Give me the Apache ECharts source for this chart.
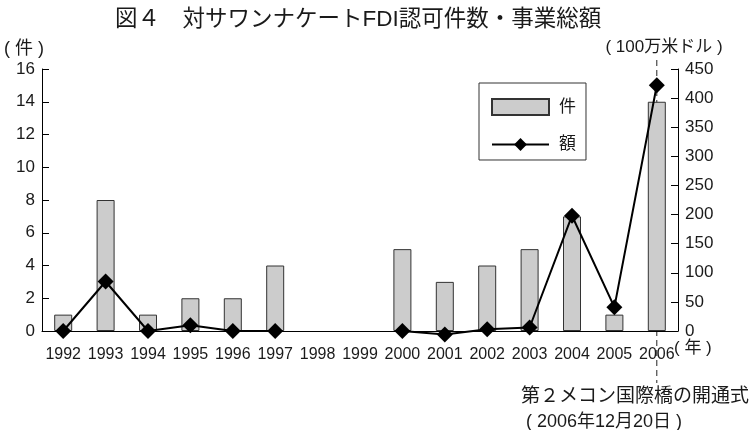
<!DOCTYPE html>
<html>
<head>
<meta charset="utf-8">
<script src="https://cdn.jsdelivr.net/npm/echarts@6/dist/echarts.min.js"></script>
<style>
  html, body { margin: 0; padding: 0; background: #fff; }
  #chart { width: 751px; height: 430px; }
</style>
</head>
<body>
<div id="chart"></div>
<script>
// 年
const years = ['1992', '1993', '1994', '1995', '1996', '1997', '1998', '1999',
  '2000', '2001', '2002', '2003', '2004', '2005', '2006'];
// 件数 (左軸)
const counts = [1, 8, 1, 2, 2, 4, 0, 0, 5, 3, 4, 5, 7, 1, 14];
// 事業総額 100万米ドル (右軸)
const amounts = [0, 85, 0, 10, 0, 0, null, null, 0, -6, 3, 6, 198, 41, 422];
// 軸の目盛
const countAxis = { min: 0, max: 16, interval: 2 };
const amountAxis = { min: 0, max: 450, interval: 50 };

const NUM = "'Liberation Sans', Arial, sans-serif";
const JP = "'Liberation Sans', 'Noto Sans CJK JP', sans-serif";
const TXT = '#1a1a1a';

let myChart = echarts.init(document.getElementById('chart'));

let option = {
  animation: false,
  backgroundColor: '#fff',
  grid: { left: 42, right: 73, top: 69, bottom: 99 },
  legend: {
    orient: 'vertical',
    left: 479,
    top: 83,
    padding: [15, 10, 7, 12],
    itemWidth: 57,
    itemHeight: 16,
    itemGap: 20,
    borderColor: '#333',
    borderWidth: 1,
    textStyle: { fontSize: 17, color: TXT, fontFamily: JP, padding: [0, 0, 0, 5] },
    data: [{ name: '件', icon: 'rect' }, { name: '額' }]
  },
  xAxis: {
    type: 'category',
    data: years,
    axisLine: { lineStyle: { color: '#000', width: 1 } },
    axisTick: { inside: true, alignWithLabel: true, length: 7, lineStyle: { color: '#000' } },
    axisLabel: { color: TXT, fontSize: 16, fontFamily: NUM, margin: 16, interval: 0 }
  },
  yAxis: [
    {
      type: 'value',
      min: countAxis.min, max: countAxis.max, interval: countAxis.interval,
      splitLine: { show: false },
      axisLine: { show: true, lineStyle: { color: '#000' } },
      axisTick: { show: true, inside: true, length: 7, lineStyle: { color: '#000' } },
      axisLabel: { color: TXT, fontSize: 17, fontFamily: NUM, margin: 7 }
    },
    {
      type: 'value',
      min: amountAxis.min, max: amountAxis.max, interval: amountAxis.interval,
      position: 'right',
      splitLine: { show: false },
      axisLine: { show: true, lineStyle: { color: '#000' } },
      axisTick: { show: true, inside: true, length: 7, lineStyle: { color: '#000' } },
      axisLabel: { color: TXT, fontSize: 17, fontFamily: NUM, margin: 7 }
    }
  ],
  series: [
    {
      name: '件',
      type: 'bar',
      // 0件の年は棒を描かない
      data: counts.map(v => (v === 0 ? null : v)),
      barWidth: 18,
      itemStyle: { color: '#cccccc', borderColor: '#333', borderWidth: 1 }
    },
    {
      name: '額',
      type: 'line',
      yAxisIndex: 1,
      data: amounts,
      clip: false,
      connectNulls: false,
      symbol: 'diamond',
      symbolSize: 16,
      lineStyle: { color: '#000', width: 2 },
      itemStyle: { color: '#000' }
    }
  ]
};
myChart.setOption(option);

// 第2メコン国際橋の開通式の破線 (2006年の位置)
let x2006 = myChart.convertToPixel({ xAxisIndex: 0 }, '2006');

myChart.setOption({
  graphic: [
    { type: 'text', x: 115, y: 20,
      style: { text: '図４　対サワンナケートFDI認可件数・事業総額', fontSize: 22.5, fontFamily: JP, fill: TXT, verticalAlign: 'middle' } },
    { type: 'text', x: 4, y: 49,
      style: { text: '( 件 )', fontSize: 18, fontFamily: JP, fill: TXT, verticalAlign: 'middle' } },
    { type: 'text', x: 664, y: 47,
      style: { text: '( 100万米ドル )', fontSize: 17, fontFamily: JP, fill: TXT, align: 'center', verticalAlign: 'middle' } },
    { type: 'text', x: 674, y: 348,
      style: { text: '( 年 )', fontSize: 17, fontFamily: JP, fill: TXT, verticalAlign: 'middle' } },
    { type: 'line', silent: true,
      shape: { x1: x2006, y1: 60, x2: x2006, y2: 383 },
      style: { stroke: '#222', lineWidth: 1, lineDash: [6, 4] } },
    { type: 'text', x: 521, y: 397,
      style: { text: '第２メコン国際橋の開通式', fontSize: 19, fontFamily: JP, fill: TXT, verticalAlign: 'middle' } },
    { type: 'text', x: 526, y: 422,
      style: { text: '( 2006年12月20日 )', fontSize: 18, fontFamily: JP, fill: TXT, verticalAlign: 'middle' } }
  ]
});
</script>
</body>
</html>
